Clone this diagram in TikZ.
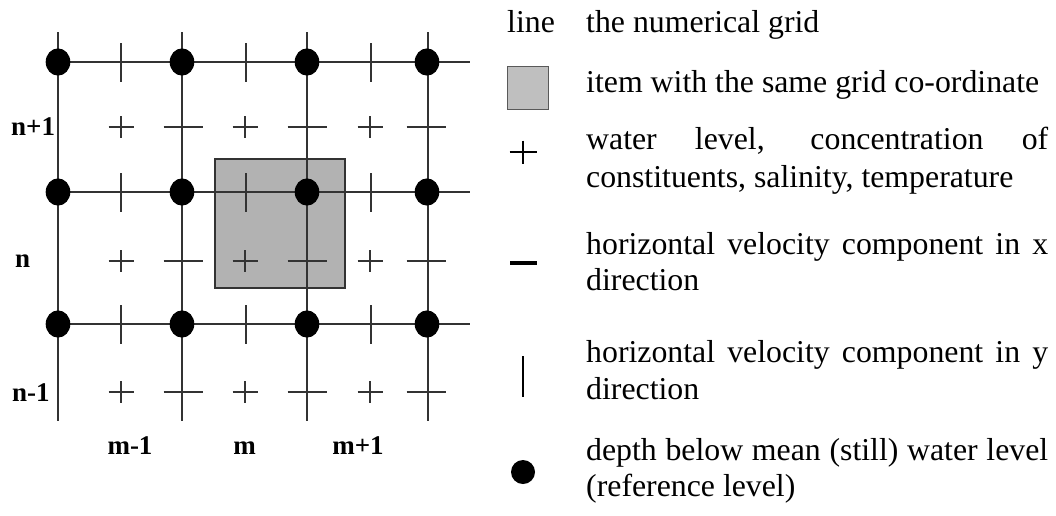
\documentclass[tikz,border=0pt]{standalone}
\usepackage{fontspec}
\setmainfont{Liberation Serif}
\begin{document}
\begin{tikzpicture}[x=1pt,y=-1pt,
  gline/.style={line width=1.8pt, black!80},
  tick/.style={line width=1.5pt, black!80},
  gbox/.style={fill=black!30, draw=black!80, line width=1.2pt},
  lgbox/.style={fill=black!25, draw=black!65, line width=1pt},
  lab/.style={inner sep=0pt, font=\fontsize{27}{30}\selectfont\bfseries},
  ltxt/.style={inner sep=0pt, anchor=base west, font=\fontsize{31.8}{37}\selectfont},
  legsym/.style={line width=1.8pt, black}]
\useasboundingbox (0,0) rectangle (1056,515);
% shaded cell
\draw[gbox] (215,159) rectangle (345,288);
% grid lines
\foreach \x in {58,182,307,428} \draw[gline] (\x,32) -- (\x,421);
\foreach \y in {62,192,324} \draw[gline] (58,\y) -- (470,\y);
% v-velocity ticks on horizontal lines
\foreach \y in {62,192,324} \foreach \x in {121,246,371} \draw[tick] (\x,\y-19) -- (\x,\y+20);
% water level pluses and u-velocity ticks
\foreach \y in {127,261,392} {
  \foreach \x in {121,245,370} \draw[tick] (\x-12.5,\y) -- (\x+12.5,\y) (\x,\y-11) -- (\x,\y+11);
  \foreach \x in {183,307,426} \draw[tick] (\x-19.5,\y) -- (\x+19.5,\y);
}
% depth points
\foreach \y in {62,192,324} \foreach \x in {58,182,307,427} \fill (\x,\y) ellipse [x radius=12.3pt, y radius=13.6pt];
% labels
\node[lab, anchor=base west] (n1) at (11,135) {n+1};
\node[lab, anchor=base west] (n0) at (15,267) {n};
\node[lab, anchor=base west] (nm) at (12,401) {n-1};
\node[lab, anchor=base] (mm) at (130,454) {m-1};
\node[lab, anchor=base] (m0) at (244.5,454) {m};
\node[lab, anchor=base] (mp) at (358,454) {m+1};
% legend symbols
\draw[lgbox] (507,66) rectangle (548,109);
\draw[legsym] (509.5,152) -- (536.5,152) (523,140.5) -- (523,163.5);
\draw[line width=3.5pt] (510,263) -- (537,263);
\draw[line width=2pt] (523,356) -- (523,397);
\fill (523,472) circle [radius=12pt];
% legend texts
\node[ltxt] (lline) at (507,32) {line};
\node[ltxt] (l1) at (586,32) {the numerical grid};
\node[ltxt] (l2) at (586,92) {item with the same grid co-ordinate};
\node[ltxt] (l3a) at (586,149) {\makebox[462pt][s]{water level, concentration of}};
\node[ltxt] (l3b) at (586,187) {constituents, salinity, temperature};
\node[ltxt] (l4a) at (586,254) {\makebox[462pt][s]{horizontal velocity component in x}};
\node[ltxt] (l4b) at (586,290) {direction};
\node[ltxt] (l5a) at (586,362) {\makebox[462pt][s]{horizontal velocity component in y}};
\node[ltxt] (l5b) at (586,399) {direction};
\node[ltxt] (l6a) at (586,460) {\makebox[462pt][s]{depth below mean (still) water level}};
\node[ltxt] (l6b) at (586,496) {(reference level)};
\end{tikzpicture}
\end{document}
